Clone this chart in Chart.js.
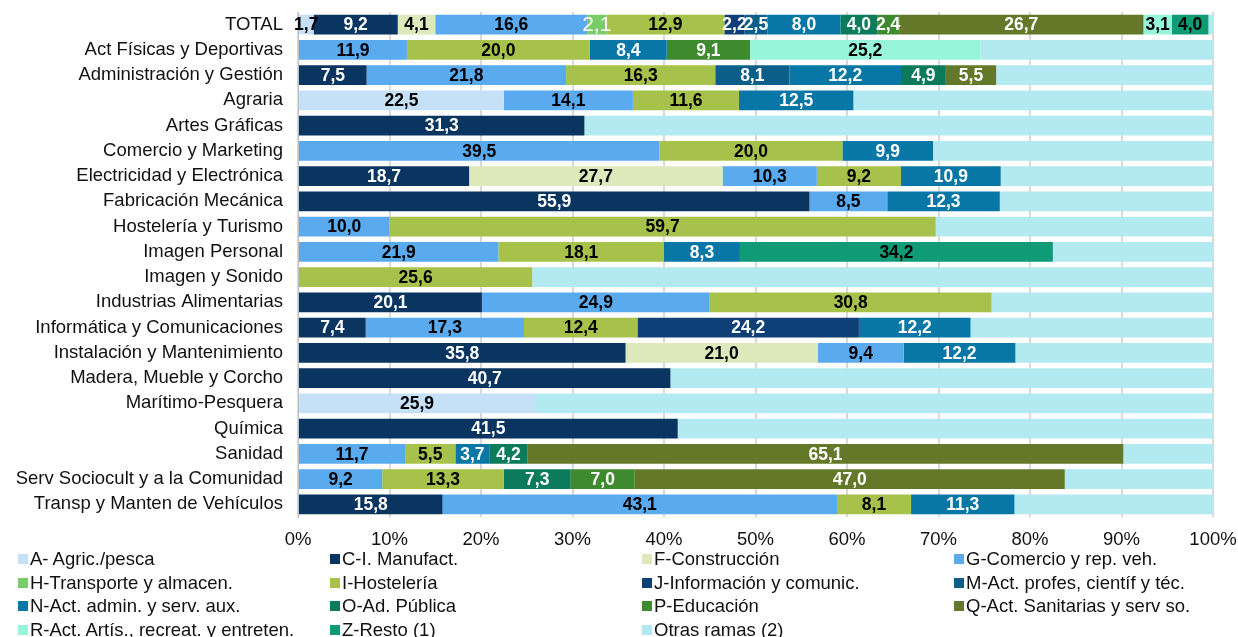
<!DOCTYPE html>
<html>
<head>
<meta charset="utf-8">
<script src="https://cdn.jsdelivr.net/npm/chart.js@4.4.0/dist/chart.umd.min.js"></script>
<style>
  body { margin: 0; background: #fff; font-family: "Liberation Sans", Arial, sans-serif; }
  #wrap { position: absolute; left: 0; top: 0; width: 1238px; height: 556px; }
  #legend { position: absolute; left: 0; top: 0; width: 1238px; height: 637px; pointer-events: none; }
  .item { position: absolute; display: flex; align-items: center; font-size: 18.5px; color: #111; white-space: nowrap; }
  .box { width: 10px; height: 10px; margin-right: 2px; }
</style>
</head>
<body>
<div id="wrap"><canvas id="chart"></canvas></div>
<div id="legend"></div>
<script>
const categories = ['TOTAL', 'Act Físicas y Deportivas', 'Administración y Gestión', 'Agraria', 'Artes Gráficas',
  'Comercio y Marketing', 'Electricidad y Electrónica', 'Fabricación Mecánica', 'Hostelería y Turismo',
  'Imagen Personal', 'Imagen y Sonido', 'Industrias Alimentarias', 'Informática y Comunicaciones',
  'Instalación y Mantenimiento', 'Madera, Mueble y Corcho', 'Marítimo-Pesquera', 'Química', 'Sanidad',
  'Serv Sociocult y a la Comunidad', 'Transp y Manten de Vehículos'];

const seriesNames = ['A- Agric./pesca', 'C-I. Manufact.', 'F-Construcción', 'G-Comercio y rep. veh.',
  'H-Transporte y almacen.', 'I-Hostelería', 'J-Información y comunic.', 'M-Act. profes, científ y téc.',
  'N-Act. admin. y serv. aux.', 'O-Ad. Pública', 'P-Educación', 'Q-Act. Sanitarias y serv so.',
  'R-Act. Artís., recreat. y entreten.', 'Z-Resto (1)', 'Otras ramas (2)'];

const agric    = [1.7, 0, 0, 22.5, 0, 0, 0, 0, 0, 0, 0, 0, 0, 0, 0, 25.9, 0, 0, 0, 0];
const manuf    = [9.2, 0, 7.5, 0, 31.3, 0, 18.7, 55.9, 0, 0, 0, 20.1, 7.4, 35.8, 40.7, 0, 41.5, 0, 0, 15.8];
const constr   = [4.1, 0, 0, 0, 0, 0, 27.7, 0, 0, 0, 0, 0, 0, 21.0, 0, 0, 0, 0, 0, 0];
const comercio = [16.6, 11.9, 21.8, 14.1, 0, 39.5, 10.3, 8.5, 10.0, 21.9, 0, 24.9, 17.3, 9.4, 0, 0, 0, 11.7, 9.2, 43.1];
const transp   = [2.1, 0, 0, 0, 0, 0, 0, 0, 0, 0, 0, 0, 0, 0, 0, 0, 0, 0, 0, 0];
const hostel   = [12.9, 20.0, 16.3, 11.6, 0, 20.0, 9.2, 0, 59.7, 18.1, 25.6, 30.8, 12.4, 0, 0, 0, 0, 5.5, 13.3, 8.1];
const inform   = [2.2, 0, 0, 0, 0, 0, 0, 0, 0, 0, 0, 0, 24.2, 0, 0, 0, 0, 0, 0, 0];
const profes   = [2.5, 0, 8.1, 0, 0, 0, 0, 0, 0, 0, 0, 0, 0, 0, 0, 0, 0, 0, 0, 0];
const admin    = [8.0, 8.4, 12.2, 12.5, 0, 9.9, 10.9, 12.3, 0, 8.3, 0, 0, 12.2, 12.2, 0, 0, 0, 3.7, 0, 11.3];
const publica  = [4.0, 0, 4.9, 0, 0, 0, 0, 0, 0, 0, 0, 0, 0, 0, 0, 0, 0, 4.2, 7.3, 0];
const educ     = [2.4, 9.1, 0, 0, 0, 0, 0, 0, 0, 0, 0, 0, 0, 0, 0, 0, 0, 0, 7.0, 0];
const sanit    = [26.7, 0, 5.5, 0, 0, 0, 0, 0, 0, 0, 0, 0, 0, 0, 0, 0, 0, 65.1, 47.0, 0];
const artis    = [3.1, 25.2, 0, 0, 0, 0, 0, 0, 0, 0, 0, 0, 0, 0, 0, 0, 0, 0, 0, 0];
const resto    = [4.0, 0, 0, 0, 0, 0, 0, 0, 0, 34.2, 0, 0, 0, 0, 0, 0, 0, 0, 0, 0];
const otras    = [0.5, 25.4, 23.7, 39.3, 68.7, 30.6, 23.2, 23.3, 30.3, 17.5, 74.4, 24.2, 26.5, 21.6, 59.3, 74.1, 58.5, 9.8, 16.2, 21.7];

const xTicks = [0, 10, 20, 30, 40, 50, 60, 70, 80, 90, 100];

const seriesData = [agric, manuf, constr, comercio, transp, hostel, inform, profes, admin, publica, educ, sanit, artis, resto, otras];
const colors = ['#c5e0f7', '#0b3561', '#dde8bb', '#5aaaf0', '#7acc6a', '#a7c24a', '#0e3f76', '#0b5f88',
  '#0877a6', '#0b7b5b', '#3e8a2e', '#64782a', '#97f5d8', '#0f9b76', '#b3e9f1'];
const labelColors = ['#000', '#fff', '#000', '#000', '#fff', '#000', '#fff', '#fff',
  '#fff', '#fff', '#fff', '#fff', '#000', '#000', null];

const FONT = '"Liberation Sans", Arial, sans-serif';

const datasets = seriesNames.map((name, i) => ({
  label: name,
  data: seriesData[i],
  backgroundColor: colors[i],
  borderWidth: 0,
  barPercentage: 0.78,
  categoryPercentage: 1.0,
  labelColor: labelColors[i]
}));

const valueLabels = {
  id: 'valueLabels',
  afterDatasetsDraw(chart) {
    const ctx = chart.ctx;
    ctx.save();
    ctx.textAlign = 'center';
    ctx.textBaseline = 'middle';
    chart.data.datasets.forEach((ds, di) => {
      if (!ds.labelColor) return;
      const meta = chart.getDatasetMeta(di);
      meta.data.forEach((bar, j) => {
        const v = ds.data[j];
        if (!v) return;
        ctx.fillStyle = ds.labelColor;
        ctx.font = di === 4 ? '21px ' + FONT : 'bold 17.5px ' + FONT;
        ctx.fillText(v.toFixed(1).replace('.', ','), (bar.x + bar.base) / 2, bar.y + 1);
      });
    });
    ctx.restore();
  }
};

new Chart(document.getElementById('chart'), {
  type: 'bar',
  data: { labels: categories, datasets: datasets },
  plugins: [valueLabels],
  options: {
    indexAxis: 'y',
    responsive: true,
    maintainAspectRatio: false,
    animation: false,
    layout: { padding: { top: 12, right: 25, left: 0, bottom: 0 } },
    plugins: {
      legend: { display: false },
      tooltip: { enabled: false }
    },
    scales: {
      x: {
        stacked: true,
        min: 0,
        max: 100,
        afterBuildTicks(scale) { scale.ticks = xTicks.map(v => ({ value: v })); },
        afterFit(scale) {
          scale.height = 39;
          scale.paddingLeft = 0;
          scale.paddingRight = 0;
        },
        grid: { color: '#d9d9d9', lineWidth: 2, drawTicks: false },
        border: { display: false },
        ticks: {
          padding: 12,
          color: '#111',
          font: { family: FONT, size: 18.5 },
          callback: v => v + '%'
        }
      },
      y: {
        stacked: true,
        afterFit(scale) {
          scale.width = 298;
          scale.paddingTop = 0;
          scale.paddingBottom = 0;
        },
        grid: { display: false, drawTicks: false },
        border: { display: true, color: '#bfbfbf', width: 1 },
        ticks: {
          padding: 15,
          color: '#111',
          autoSkip: false,
          font: { family: FONT, size: 18.5 }
        }
      }
    }
  }
});

// legend in 4 fixed columns, like the original
const legend = document.getElementById('legend');
seriesNames.forEach((name, i) => {
  const col = i % 4, row = Math.floor(i / 4);
  const el = document.createElement('div');
  el.className = 'item';
  el.style.left = (18 + col * 312) + 'px';
  el.style.top = (548 + row * 23.7) + 'px';
  el.innerHTML = '<span class="box" style="background:' + colors[i] + '"></span>' + name;
  legend.appendChild(el);
});
</script>
</body>
</html>
